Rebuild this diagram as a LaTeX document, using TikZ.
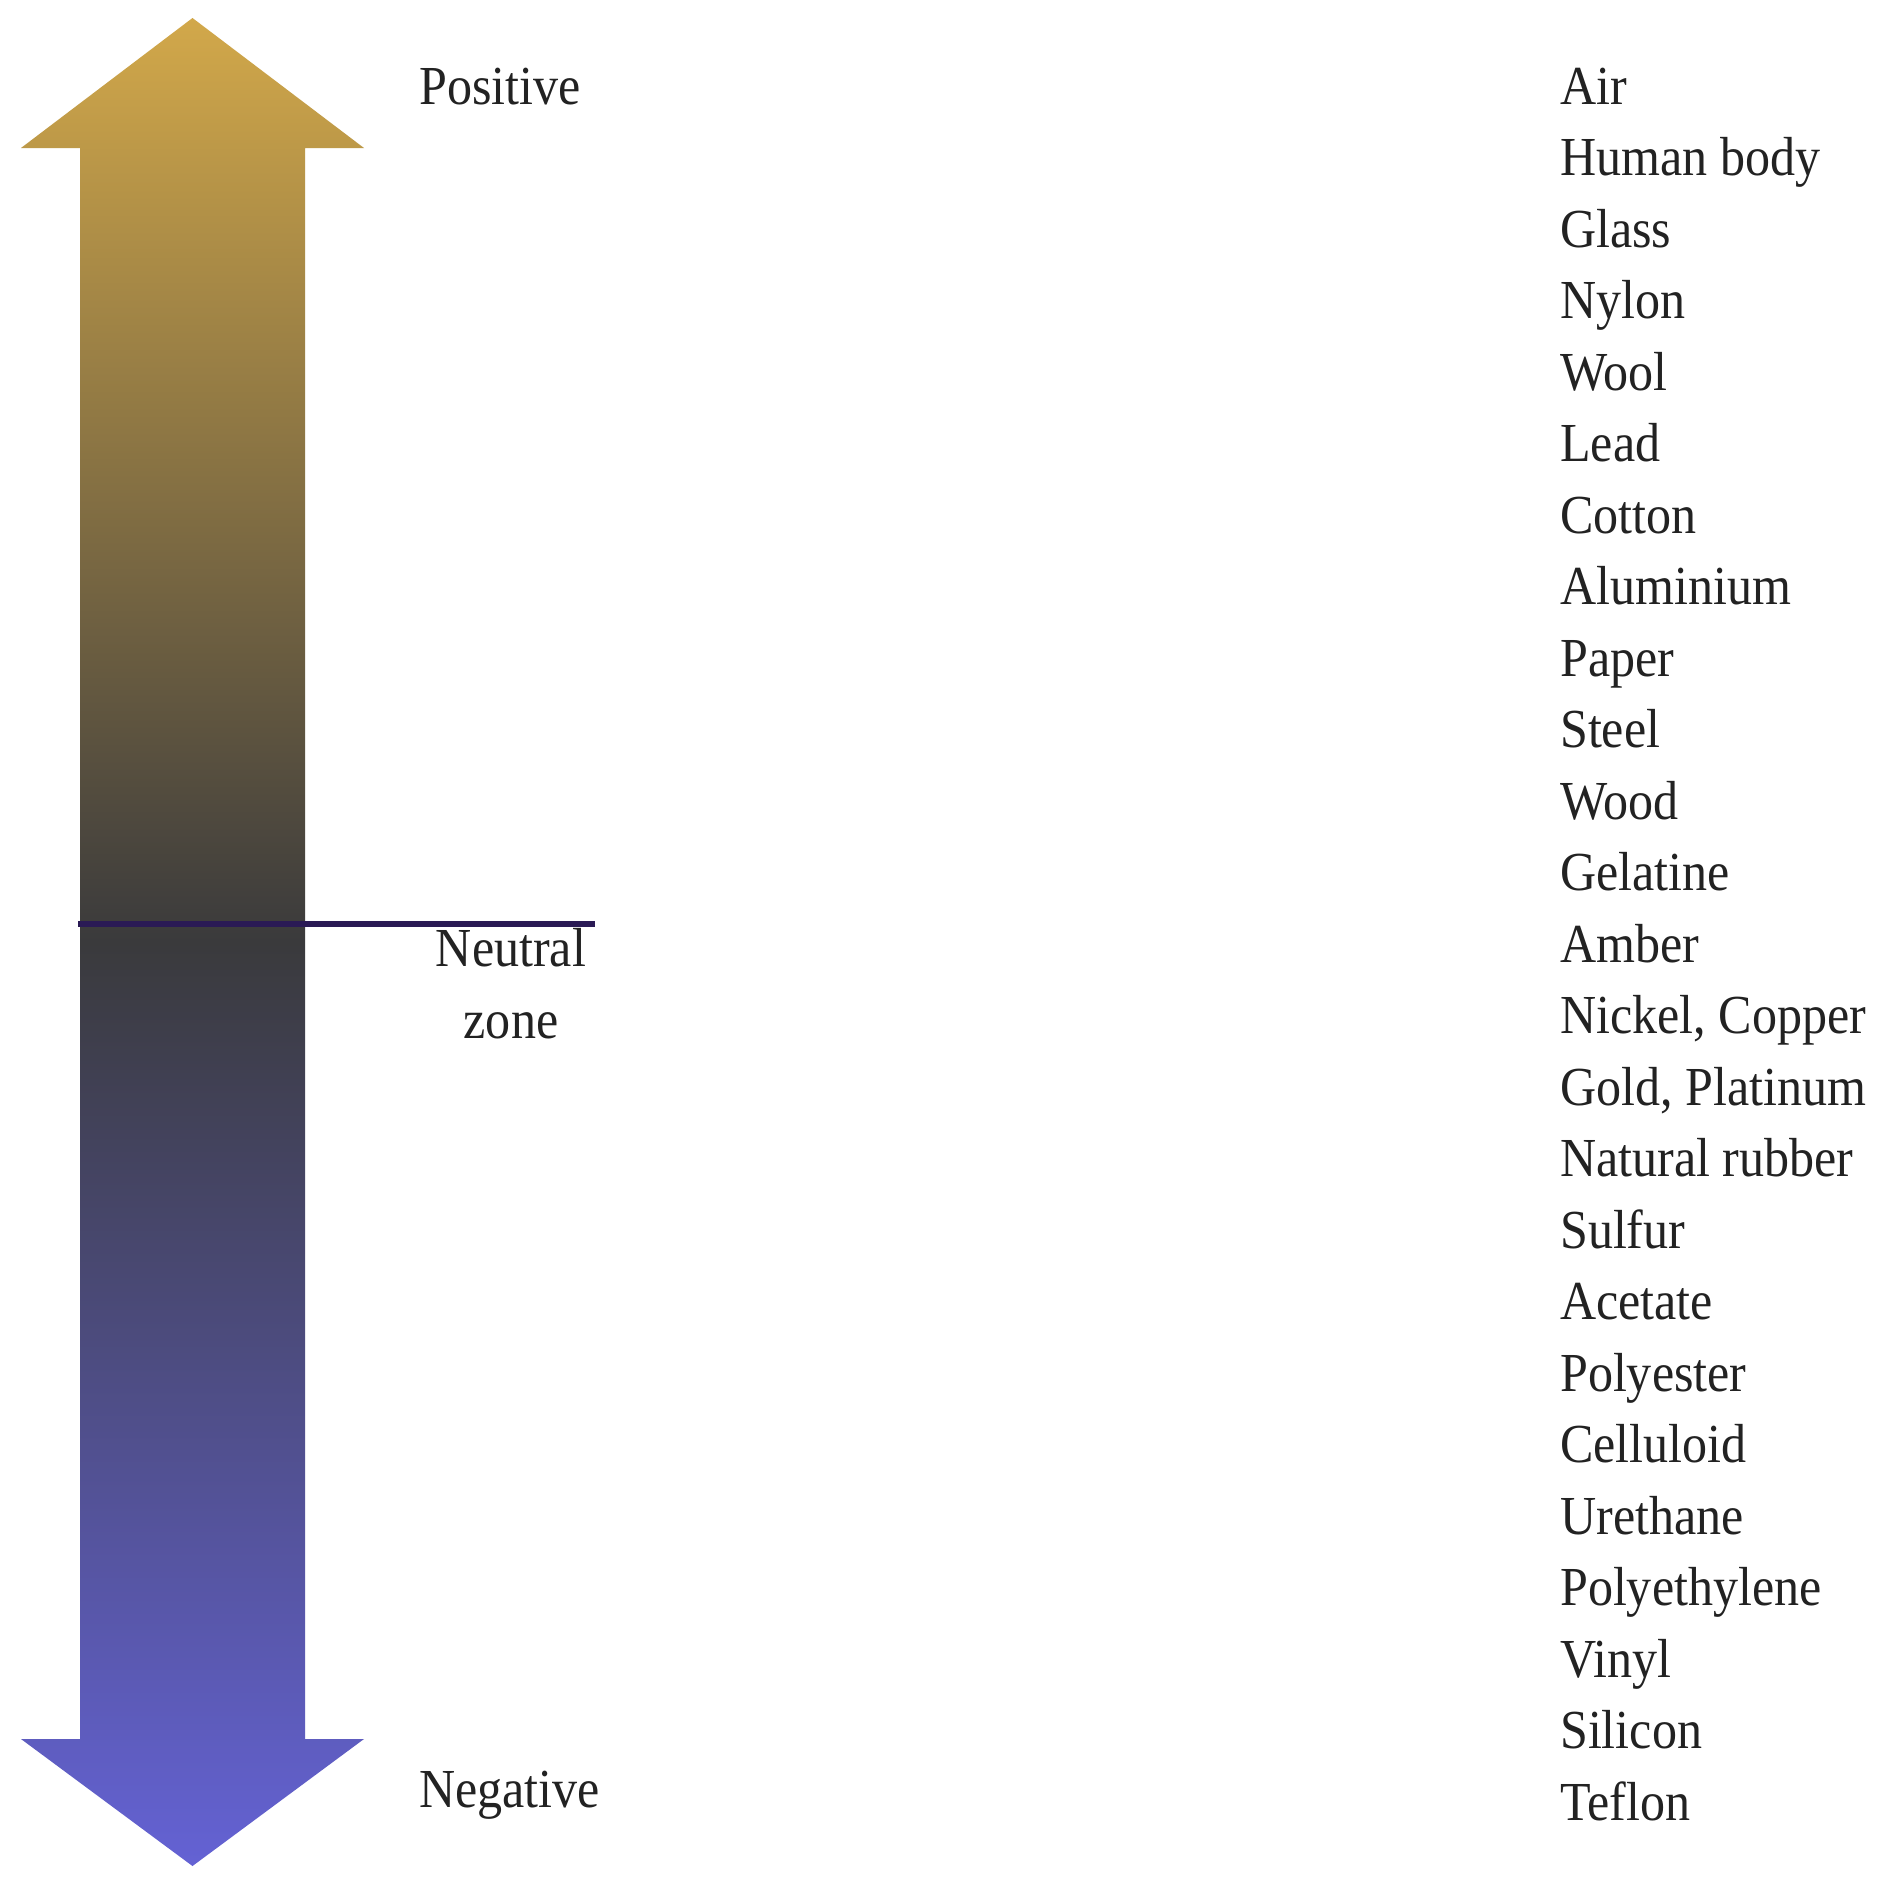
\documentclass[tikz,border=0pt]{standalone}
\usepackage{fontspec}
\setmainfont{Liberation Serif}[FakeStretch=0.91]
\definecolor{goldtop}{HTML}{D2A84A}
\definecolor{midgray}{HTML}{3A3A3C}
\definecolor{bluebot}{HTML}{6462D4}
\definecolor{neutralline}{HTML}{2A1A55}
\definecolor{txt}{HTML}{222222}
\tikzset{
  lbl/.style={anchor=base west, inner sep=0pt, text=txt, font=\fontsize{55}{71.5}\selectfont},
  zonelbl/.style={anchor=base, inner sep=0pt, text=txt, align=center, font=\fontsize{55}{71.5}\selectfont},
  zoneline/.style={draw=neutralline, line width=6pt}
}
\begin{document}
\begin{tikzpicture}[x=1pt,y=-1pt]
\useasboundingbox[fill=white] (0,0) rectangle (1904,1893);
% double arrow
\shade[top color=goldtop, bottom color=bluebot, middle color=midgray]
  (192.5,18) -- (364,148) -- (305,148) -- (305,1739) -- (364,1739)
  -- (192.5,1866) -- (21,1739) -- (80,1739) -- (80,148) -- (21,148) -- cycle;
% neutral line
\coordinate (nl) at (78,924);
\coordinate (nr) at (595,924);
\draw[zoneline] (nl) -- (nr);
\node[lbl] (pos) at (419,104) {Positive};
\node[lbl] (neg) at (419,1807) {Negative};
\node[zonelbl] (nz) at (511,1038) {Neutral\\zone};
% list
\foreach \t [count=\i from 0] in {Air,Human body,Glass,Nylon,Wool,Lead,Cotton,Aluminium,Paper,Steel,Wood,Gelatine,Amber,{Nickel, Copper},{Gold, Platinum},Natural rubber,Sulfur,Acetate,Polyester,Celluloid,Urethane,Polyethylene,Vinyl,Silicon,Teflon}{
  \node[lbl] (m\i) at (1560,{104+71.5*\i}) {\t};
}
\end{tikzpicture}
\end{document}
